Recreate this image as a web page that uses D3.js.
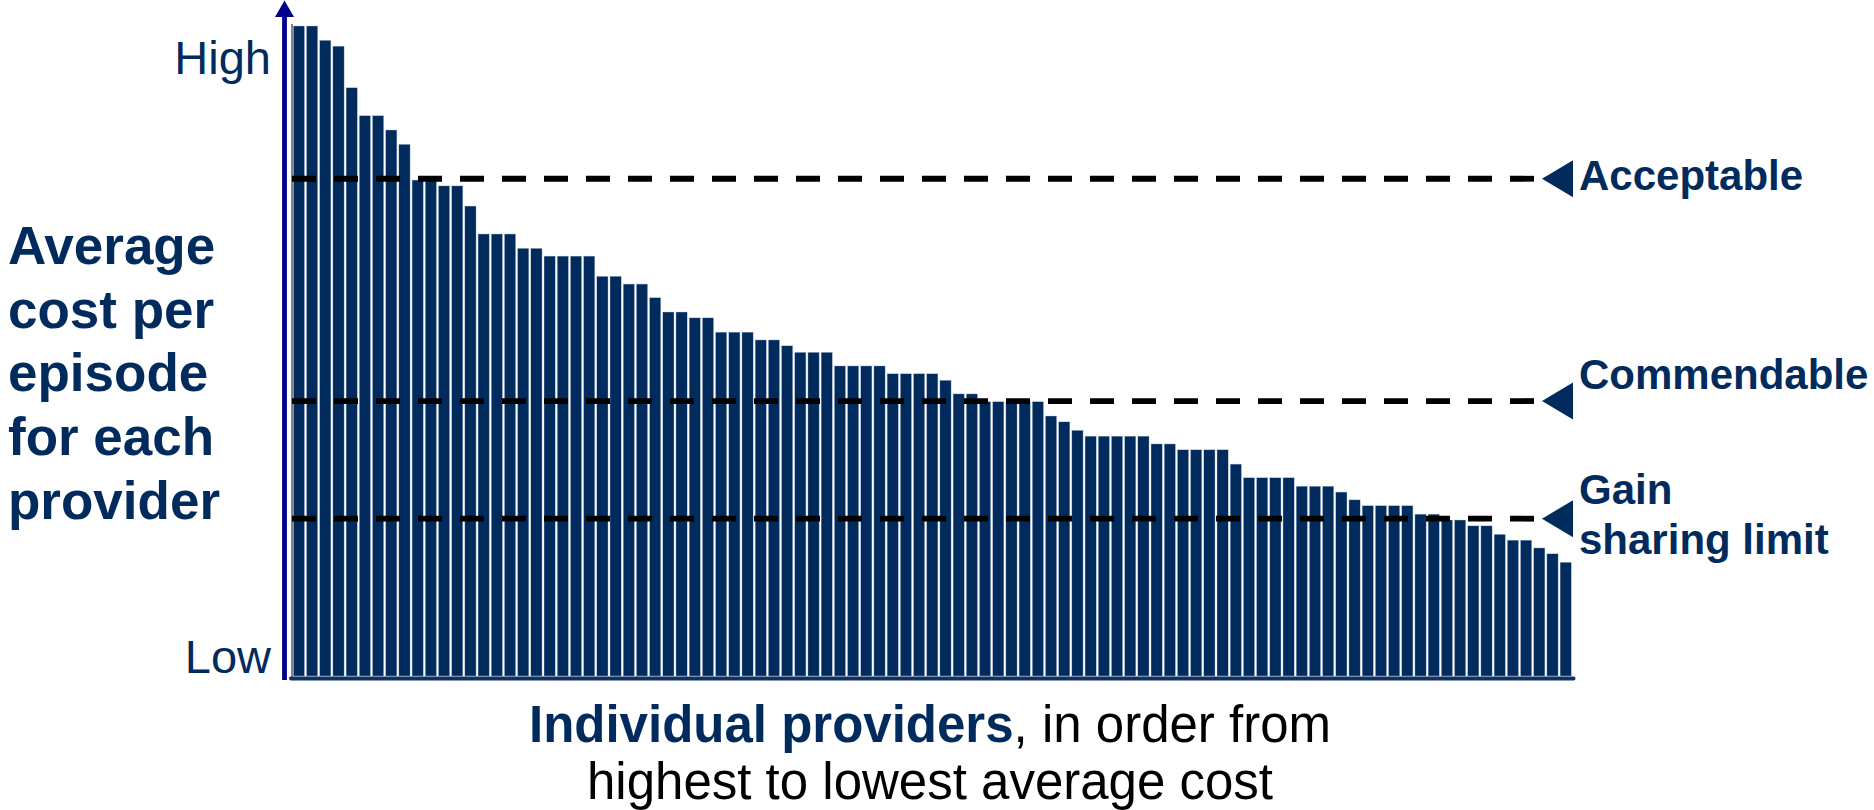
<!DOCTYPE html>
<html>
<head>
<meta charset="utf-8">
<script src="https://cdn.jsdelivr.net/npm/d3@7"></script>
<style>
  html, body { margin: 0; padding: 0; background: #ffffff; }
  svg { display: block; font-family: "Liberation Sans", Arial, sans-serif; }
</style>
</head>
<body>
<svg id="chart" width="1874" height="810"></svg>
<script>
// Average cost per episode index for each provider, sorted from highest to lowest
const costIndex = [
  100, 100, 97.8, 96.9, 90.5, 86.2, 86.2, 84.0, 81.8, 76.3,
  76.3, 75.4, 75.4, 72.3, 68.0, 68.0, 68.0, 65.8, 65.8, 64.6,
  64.6, 64.6, 64.6, 61.5, 61.5, 60.3, 60.3, 58.2, 56.0, 56.0,
  55.1, 55.1, 52.9, 52.9, 52.9, 51.7, 51.7, 50.8, 49.8, 49.8,
  49.8, 47.7, 47.7, 47.7, 47.7, 46.5, 46.5, 46.5, 46.5, 45.5,
  43.4, 43.4, 42.2, 42.2, 42.2, 42.2, 42.2, 40.0, 39.1, 37.8,
  36.9, 36.9, 36.9, 36.9, 36.9, 35.7, 35.7, 34.8, 34.8, 34.8,
  34.8, 32.6, 30.5, 30.5, 30.5, 30.5, 29.2, 29.2, 29.2, 28.3,
  27.1, 26.2, 26.2, 26.2, 26.2, 24.9, 24.9, 24.0, 24.0, 23.1,
  23.1, 21.8, 20.9, 20.9, 19.7, 18.8, 17.5
];
const providers = costIndex.map((_, i) => "P" + (i + 1));

// Performance thresholds
const thresholdNames = ["Acceptable", "Commendable", "Gain sharing limit"];
const thresholdValues = [76.5, 42.3, 24.2];
const thresholdLabelLines = [["Acceptable"], ["Commendable"], ["Gain", "sharing limit"]];

// Axis wording
const yEndLabels = ["High", "Low"];
const yTitleLines = ["Average", "cost per", "episode", "for each", "provider"];
const xTitleBold = "Individual providers";
const xTitleRest = ", in order from";
const xTitleLine2 = "highest to lowest average cost";

const NAVY = "#022b5d";
const AXIS_BLUE = "#00008c";

const svg = d3.select("#chart");

const x = d3.scaleBand()
  .domain(providers)
  .range([293.3, 1571.3])
  .paddingInner(0.15)
  .paddingOuter(0);

const y = d3.scaleLinear()
  .domain([0, 100])
  .range([676, 26]);

// Thin frame line on the left edge of the plot
svg.append("line")
  .attr("x1", 292).attr("x2", 292)
  .attr("y1", y(100) - 2).attr("y2", y(0) + 2)
  .attr("stroke", "#333333").attr("stroke-width", 1.2);

// Bars
svg.append("g")
  .selectAll("rect")
  .data(costIndex)
  .join("rect")
  .attr("x", (d, i) => x(providers[i]))
  .attr("y", d => y(d))
  .attr("width", x.bandwidth())
  .attr("height", d => y(0) - y(d))
  .attr("fill", NAVY)
  .attr("stroke", "#b9c6da")
  .attr("stroke-width", 0.4);

// Baseline
svg.append("line")
  .attr("x1", 291).attr("x2", 1573.5)
  .attr("y1", y(0) + 2.5).attr("y2", y(0) + 2.5)
  .attr("stroke", "#0d3168").attr("stroke-width", 4)
  .attr("stroke-linecap", "round");

// Y axis arrow
const axisX = 284.5;
svg.append("line")
  .attr("x1", axisX).attr("x2", axisX)
  .attr("y1", 680).attr("y2", 14)
  .attr("stroke", AXIS_BLUE).attr("stroke-width", 4.8);
svg.append("path")
  .attr("d", `M${axisX},0.5 L${axisX + 9.5},17 L${axisX - 9.5},17 Z`)
  .attr("fill", AXIS_BLUE);

// Threshold dashed lines, markers and labels
const thr = svg.append("g");
thresholdValues.forEach((v, i) => {
  const ty = y(v);
  thr.append("line")
    .attr("x1", 292).attr("x2", 1535)
    .attr("y1", ty).attr("y2", ty)
    .attr("stroke", "#000000").attr("stroke-width", 5.8)
    .attr("stroke-dasharray", "24,18");
  thr.append("path")
    .attr("d", `M1542,${ty} L1573,${ty - 18.5} L1573,${ty + 18.5} Z`)
    .attr("fill", NAVY);
});
thr.append("text")
  .attr("x", 1579).attr("y", y(thresholdValues[0]) + 11)
  .attr("font-size", 42).attr("font-weight", "bold").attr("fill", NAVY)
  .text(thresholdLabelLines[0][0]);
thr.append("text")
  .attr("x", 1579).attr("y", y(thresholdValues[1]) - 12)
  .attr("font-size", 42).attr("font-weight", "bold").attr("fill", NAVY)
  .text(thresholdLabelLines[1][0]);
thr.append("text")
  .attr("x", 1579).attr("y", y(thresholdValues[2]) - 15)
  .attr("font-size", 42).attr("font-weight", "bold").attr("fill", NAVY)
  .selectAll("tspan")
  .data(thresholdLabelLines[2])
  .join("tspan")
  .attr("x", 1579)
  .attr("dy", (d, i) => i === 0 ? 0 : 50)
  .text(d => d);

// High / Low end labels
svg.append("text")
  .attr("x", 271).attr("y", y(100) + 48)
  .attr("text-anchor", "end")
  .attr("font-size", 47).attr("fill", NAVY)
  .text(yEndLabels[0]);
svg.append("text")
  .attr("x", 271).attr("y", y(0) - 3)
  .attr("text-anchor", "end")
  .attr("font-size", 47).attr("fill", NAVY)
  .text(yEndLabels[1]);

// Y axis title
svg.append("text")
  .attr("x", 8).attr("y", 264)
  .attr("font-size", 53).attr("font-weight", "bold").attr("fill", NAVY)
  .selectAll("tspan")
  .data(yTitleLines)
  .join("tspan")
  .attr("x", 8)
  .attr("dy", (d, i) => i === 0 ? 0 : 63.7)
  .text(d => d);

// X axis title
const xt = svg.append("text")
  .attr("x", 930).attr("y", 742)
  .attr("text-anchor", "middle")
  .attr("font-size", 51);
xt.append("tspan").attr("font-weight", "bold").attr("fill", NAVY).text(xTitleBold);
xt.append("tspan").attr("fill", "#000000").text(xTitleRest);
svg.append("text")
  .attr("x", 930).attr("y", 799)
  .attr("text-anchor", "middle")
  .attr("font-size", 51).attr("fill", "#000000")
  .text(xTitleLine2);
</script>
</body>
</html>
